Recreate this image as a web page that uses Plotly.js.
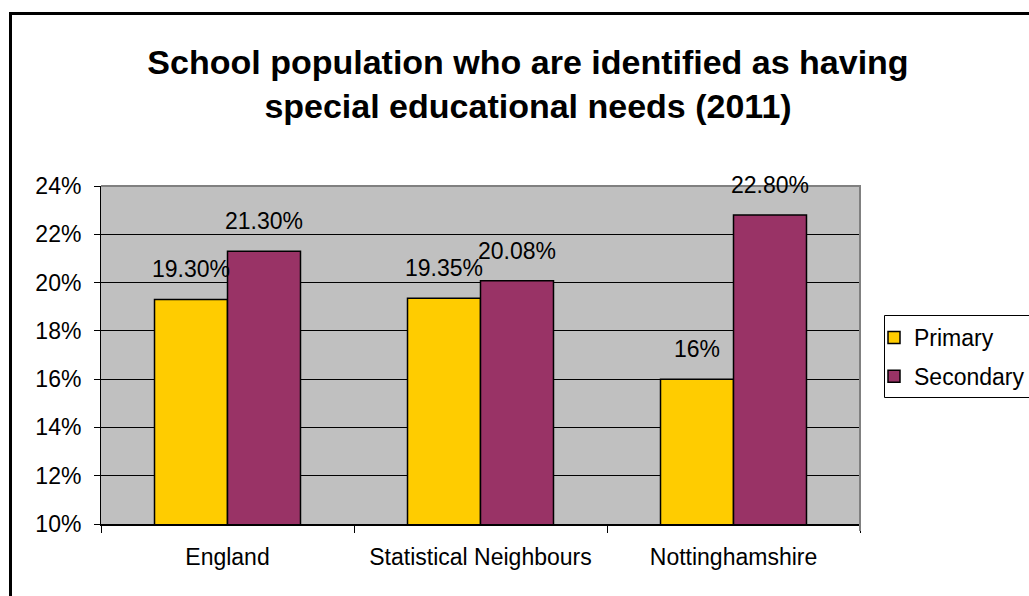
<!DOCTYPE html>
<html>
<head>
<meta charset="utf-8">
<script src="https://cdn.plot.ly/plotly-3.0.1.min.js"></script>
<style>html,body{margin:0;padding:0;background:#fff;}#chart{width:1029px;height:596px;}</style>
</head>
<body>
<div id="chart"></div>
<script>
var categories = ['England', 'Statistical Neighbours', 'Nottinghamshire'];
var primaryValues = [19.30, 19.35, 16];
var secondaryValues = [21.30, 20.08, 22.80];
var primaryLabels = ['19.30%', '19.35%', '16%'];
var secondaryLabels = ['21.30%', '20.08%', '22.80%'];
var seriesNames = ['Primary', 'Secondary'];
var yTickValues = [10, 12, 14, 16, 18, 20, 22, 24];
var titleText = 'School population who are identified as having<br>special educational needs (2011)';

var FONT = 'Arial, "Liberation Sans", sans-serif';
var W = 1029, H = 596;
var L = 101, R = 860, T = 186, B = 524;
function px2x(px){ return (px - L) / (R - L); }
function py2y(py){ return (B - py) / (B - T); }

var traces = [
  {type:'bar', name:seriesNames[0], x:categories, y:primaryValues, legendgroup:'a',
   marker:{color:'#FFCC00', line:{color:'#000000', width:1.5}}, hoverinfo:'none'},
  {type:'bar', name:seriesNames[1], x:categories, y:secondaryValues, legendgroup:'b',
   marker:{color:'#993366', line:{color:'#000000', width:1.5}}, hoverinfo:'none'}
];

var annotations = [];
for (var i = 0; i < categories.length; i++) {
  annotations.push({x:categories[i], y:primaryValues[i], xref:'x', yref:'y', text:primaryLabels[i],
    showarrow:false, xshift:-36.5, yshift:30, yanchor:'middle', xanchor:'center',
    font:{family:FONT, size:23, color:'#000'}});
  annotations.push({x:categories[i], y:secondaryValues[i], xref:'x', yref:'y', text:secondaryLabels[i],
    showarrow:false, xshift:36.5, yshift:30, yanchor:'middle', xanchor:'center',
    font:{family:FONT, size:23, color:'#000'}});
}

var shapes = [
  // outer chart frame (left and top visible, rest off-canvas)
  {type:'rect', xref:'paper', yref:'paper', layer:'above',
   x0:px2x(10.5), x1:px2x(1100), y0:py2y(700), y1:py2y(13.5),
   line:{color:'#000000', width:3}, fillcolor:'rgba(0,0,0,0)'},
  // plot area top & right border
  {type:'path', xref:'paper', yref:'paper', layer:'above',
   path:'M '+px2x(L)+' '+py2y(T)+' L '+px2x(R)+' '+py2y(T)+' L '+px2x(R)+' '+py2y(531),
   line:{color:'#808080', width:2}},
  // legend box
  {type:'rect', xref:'paper', yref:'paper', layer:'above',
   x0:px2x(884.5), x1:px2x(1100), y0:py2y(397.5), y1:py2y(315.5),
   line:{color:'#000000', width:1}, fillcolor:'rgba(0,0,0,0)'}
];

var layout = {
  width:W, height:H,
  margin:{l:L, r:W-R, t:T, b:H-B, autoexpand:false},
  paper_bgcolor:'#ffffff', plot_bgcolor:'#C0C0C0',
  font:{family:FONT, size:23, color:'#000'},
  title:{text:titleText, font:{family:FONT, size:34, color:'#000', weight:'bold'},
    xref:'container', yref:'container', x:528/W, xanchor:'center', y:1-73.5/H, yanchor:'middle'},
  barmode:'group', bargap:0.423, bargroupgap:0,
  showlegend:true,
  legend:{x:px2x(874), xanchor:'left', y:py2y(316), yanchor:'top', xref:'paper', yref:'paper',
    borderwidth:0, bgcolor:'rgba(0,0,0,0)', traceorder:'grouped', tracegroupgap:6,
    font:{family:FONT, size:23, color:'#000'}},
  xaxis:{type:'category', showgrid:false, showline:true, linecolor:'#000', linewidth:1.5,
    ticks:'outside', tickson:'boundaries', ticklen:7, tickcolor:'#000', tickwidth:1,
    ticklabelstandoff:12,
    tickfont:{family:FONT, size:23, color:'#000'}, fixedrange:true, zeroline:false},
  yaxis:{range:[10,24], tickvals:yTickValues, ticktext:yTickValues.map(function(v){return v+'%';}),
    showgrid:true, gridcolor:'#000', gridwidth:1, showline:true, linecolor:'#000', linewidth:1,
    ticks:'outside', ticklen:6, tickcolor:'#000', zeroline:false, ticklabelstandoff:8,
    tickfont:{family:FONT, size:23, color:'#000'}, fixedrange:true},
  annotations:annotations,
  shapes:shapes
};

Plotly.newPlot('chart', traces, layout, {staticPlot:true, displayModeBar:false});
</script>
</body>
</html>
